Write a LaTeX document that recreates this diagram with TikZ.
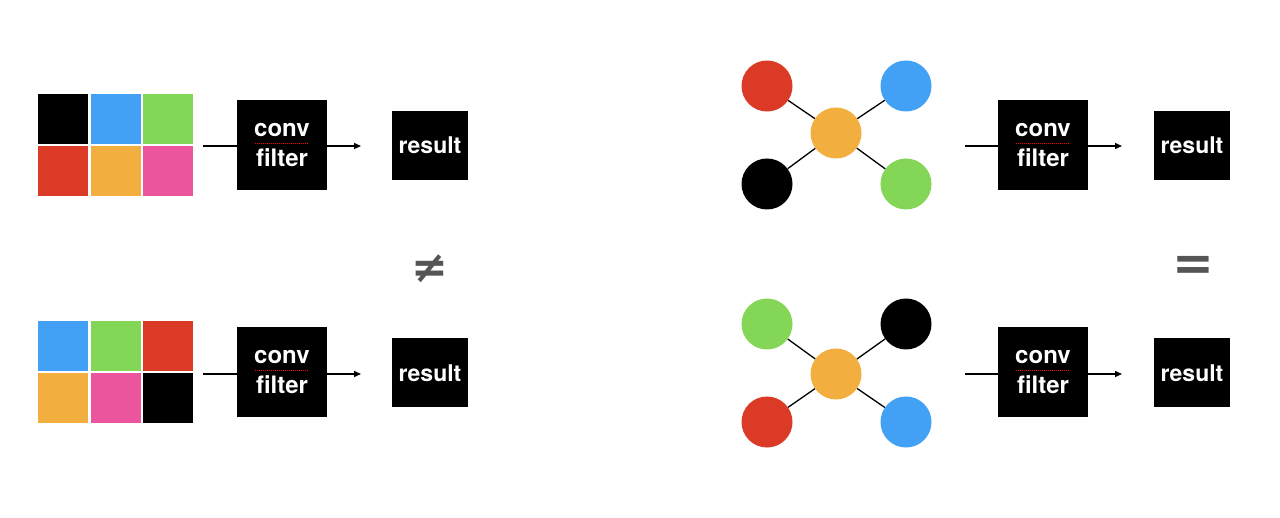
\documentclass[tikz,border=0pt]{standalone}
\usepackage{fontspec}
\setmainfont{TeX Gyre Heros}
\newfontfamily\symfont{DejaVu Sans}
\usetikzlibrary{arrows.meta}
\definecolor{cblack}{HTML}{000000}
\definecolor{cblue}{HTML}{42A0F5}
\definecolor{cgreen}{HTML}{84D656}
\definecolor{cred}{HTML}{DB3B26}
\definecolor{corange}{HTML}{F2AF3F}
\definecolor{cpink}{HTML}{EB559E}
\definecolor{cgray}{HTML}{555555}
\tikzset{
  cell/.style={minimum width=50pt,minimum height=50pt,inner sep=0pt,outer sep=0pt},
  filterbox/.style={fill=black,text=white,minimum width=90pt,minimum height=90pt,inner sep=0pt,align=center,font=\bfseries\fontsize{24}{30}\selectfont},
  resultbox/.style={fill=black,text=white,minimum width=76pt,minimum height=69pt,inner sep=0pt,font=\bfseries\fontsize{23}{29}\selectfont},
  dot/.style={circle,minimum size=51pt,inner sep=0pt},
  link/.style={line width=1.3pt,black},
  flow/.style={line width=1.3pt,-{Triangle[length=7pt,width=6pt]}},
  spell/.style={red,line width=0.9pt,dash pattern=on 1pt off 1pt},
  sym/.style={text=cgray,font=\symfont\bfseries\fontsize{44}{44}\selectfont},
  symb/.style={text=cgray,font=\symfont\bfseries\fontsize{50}{50}\selectfont}
}
\begin{document}
\begin{tikzpicture}[x=1pt,y=-1pt]
\useasboundingbox[fill=white] (0,0) rectangle (1280,518);
% ---------- top left ----------
\node[cell,fill=cblack]  (a1) at (63,119) {};
\node[cell,fill=cblue]   (a2) at (115.5,119) {};
\node[cell,fill=cgreen]  (a3) at (168,119) {};
\node[cell,fill=cred]    (a4) at (63,171.5) {};
\node[cell,fill=corange] (a5) at (115.5,171.5) {};
\node[cell,fill=cpink]   (a6) at (168,171.5) {};
\coordinate (ain) at (203,146);
\node[filterbox] (af) at (282,145) {conv\\filter};
\node[resultbox] (ar) at (430,145.5) {result};
\draw[link] (ain) -- (af.west |- ain);
\draw[flow] (af.east |- ain) -- (361,146) coordinate (aout);
\draw[spell] ([xshift=-27pt,yshift=2pt]af.center) -- ([xshift=27pt,yshift=2pt]af.center);
% ---------- bottom left ----------
\node[cell,fill=cblue]   (b1) at (63,346) {};
\node[cell,fill=cgreen]  (b2) at (115.5,346) {};
\node[cell,fill=cred]    (b3) at (168,346) {};
\node[cell,fill=corange] (b4) at (63,398.5) {};
\node[cell,fill=cpink]   (b5) at (115.5,398.5) {};
\node[cell,fill=cblack]  (b6) at (168,398.5) {};
\coordinate (bin) at (203,374);
\node[filterbox] (bf) at (282,372.5) {conv\\filter};
\node[resultbox] (br) at (430,373) {result};
\draw[link] (bin) -- (bf.west |- bin);
\draw[flow] (bf.east |- bin) -- (361,374) coordinate (bout);
\draw[spell] ([xshift=-27pt,yshift=2pt]bf.center) -- ([xshift=27pt,yshift=2pt]bf.center);
\node[sym] (neq) at (430,268.5) {≠};
% ---------- top right ----------
\node[dot,fill=corange] (c0) at (836,133) {};
\node[dot,fill=cred]    (c1) at (767,86) {};
\node[dot,fill=cblue]   (c2) at (906,86) {};
\node[dot,fill=cblack]  (c3) at (767,184) {};
\node[dot,fill=cgreen]  (c4) at (906,184) {};
\draw[link] (c1) -- (c0); \draw[link] (c2) -- (c0);
\draw[link] (c3) -- (c0); \draw[link] (c4) -- (c0);
\coordinate (cin) at (965,146);
\node[filterbox] (cf) at (1043,145) {conv\\filter};
\node[resultbox] (cr) at (1192,145.5) {result};
\draw[link] (cin) -- (cf.west |- cin);
\draw[flow] (cf.east |- cin) -- (1122,146) coordinate (cout);
\draw[spell] ([xshift=-27pt,yshift=2pt]cf.center) -- ([xshift=27pt,yshift=2pt]cf.center);
% ---------- bottom right ----------
\node[dot,fill=corange] (d0) at (836,374) {};
\node[dot,fill=cgreen]  (d1) at (767,324) {};
\node[dot,fill=cblack]  (d2) at (906,324) {};
\node[dot,fill=cred]    (d3) at (767,422) {};
\node[dot,fill=cblue]   (d4) at (906,422) {};
\draw[link] (d1) -- (d0); \draw[link] (d2) -- (d0);
\draw[link] (d3) -- (d0); \draw[link] (d4) -- (d0);
\coordinate (din) at (965,374);
\node[filterbox] (df) at (1043,372.5) {conv\\filter};
\node[resultbox] (dr) at (1192,373) {result};
\draw[link] (din) -- (df.west |- din);
\draw[flow] (df.east |- din) -- (1122,374) coordinate (dout);
\draw[spell] ([xshift=-27pt,yshift=2pt]df.center) -- ([xshift=27pt,yshift=2pt]df.center);
\node[symb] (eq) at (1193,268.5) {=};
\end{tikzpicture}
\end{document}
